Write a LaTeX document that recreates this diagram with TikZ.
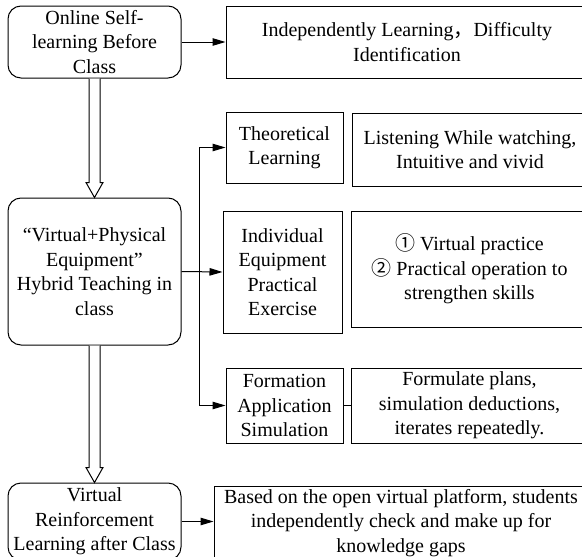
\documentclass[tikz,border=0pt]{standalone}
\usepackage{fontspec}
\setmainfont{Liberation Serif}
\newfontfamily\cjk{Noto Sans CJK SC}
\usetikzlibrary{arrows.meta,calc}

\begin{document}
\begin{tikzpicture}[x=1pt,y=-1pt,
 box/.style={draw,line width=1pt,align=center,inner sep=0pt,font=\fontsize{20}{24.5}\selectfont},
 rbox/.style={box,rounded corners=13pt},
 arr/.style={-{Triangle[length=13pt,width=7.5pt]},line width=1pt},
 hollow/.style={draw,line width=1pt,fill=white,line join=miter}]
 \useasboundingbox (0,0) rectangle (582,557);
 \clip (0,0) rectangle (582,557);
 % left column
 \node[rbox,minimum width=173pt,minimum height=72pt] (before) at (94.5,42) {Online Self-\\learning Before\\Class};
 \node[rbox,minimum width=173pt,minimum height=147pt] (inclass) at (94.5,271.5) {“Virtual+Physical\\Equipment”\\Hybrid Teaching in\\class};
 \node[rbox,minimum width=173pt,minimum height=77pt] (after) at (94.5,521.5) {Virtual\\Reinforcement\\Learning after Class};
 % middle column
 \node[box,minimum width=117pt,minimum height=71pt] (theory) at (284.5,147.5) {Theoretical\\Learning};
 \node[box,minimum width=119pt,minimum height=122pt] (equip) at (282.5,272) {Individual\\Equipment\\Practical\\Exercise};
 \node[box,minimum width=117pt,minimum height=75pt] (drill) at (284.5,405.5) {Formation\\Application\\Simulation};
 % right column
 \node[box,minimum width=362pt,minimum height=72pt] (study) at (407,42) {Independently Learning{\cjk ，}Difficulty\\Identification};
 \node[box,minimum width=236pt,minimum height=73pt] (theorynote) at (470,149.5) {Listening While watching,\\Intuitive and vivid};
 \node[box,minimum width=237pt,minimum height=116pt] (equipnote) at (469.5,269) {{\cjk ①} Virtual practice\\{\cjk ②} Practical operation to\\strengthen skills};
 \node[box,minimum width=237pt,minimum height=75pt] (drillnote) at (469.5,405.5) {Formulate plans,\\simulation deductions,\\iterates repeatedly.};
 \node[box,minimum width=374pt,minimum height=74pt] (afternote) at (401,523) {Based on the open virtual platform, students\\independently check and make up for\\knowledge gaps};
 % connectors
 \draw[arr] (before.east) -- (study.west);
 \draw[arr] (inclass.east) -- (equip.west);
 \coordinate (fork) at (199,272);
 \draw[arr] (fork) |- (theory.west);
 \draw[arr] (fork) |- (drill.west);
 \draw[line width=1pt] (drill.east) -- (drillnote.west);
 \draw[arr] (after.east) -- (after.east -| afternote.west);
 % hollow arrows
 \draw[hollow] ($(before.south)+(-5.5,0)$) -- ($(inclass.north)+(-5.5,-15)$) -- ($(inclass.north)+(-8.5,-15)$) -- (inclass.north) -- ($(inclass.north)+(8.5,-15)$) -- ($(inclass.north)+(5.5,-15)$) -- ($(before.south)+(5.5,0)$);
 \draw[hollow] ($(inclass.south)+(-5.5,0)$) -- ($(after.north)+(-5.5,-15)$) -- ($(after.north)+(-8.5,-15)$) -- (after.north) -- ($(after.north)+(8.5,-15)$) -- ($(after.north)+(5.5,-15)$) -- ($(inclass.south)+(5.5,0)$);
\end{tikzpicture}
\end{document}
